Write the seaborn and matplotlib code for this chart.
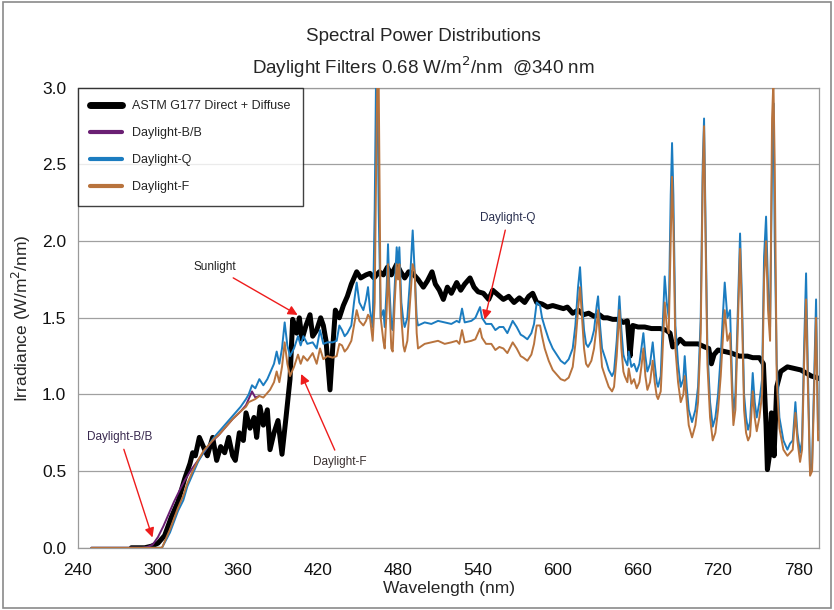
import numpy as np
import pandas as pd
import matplotlib
matplotlib.use("Agg")
import matplotlib.pyplot as plt
from matplotlib.lines import Line2D
from matplotlib.patches import Rectangle
from matplotlib.ticker import MultipleLocator, FormatStrFormatter
import seaborn as sns

# -------------------------------
# Data
# -------------------------------

astm_wl = [280, 290, 295, 300, 305, 310, 315, 320, 324, 326, 328, 331, 334, 337, 341, 344,
           347, 350, 353, 356, 358, 361, 364, 366, 369, 372, 374, 376.5, 379, 382, 384,
           387, 390, 393, 396, 399, 401, 404, 406, 408, 411, 414, 416, 419, 422, 424, 426,
           429, 431, 433, 436, 439, 442, 445, 449, 452, 456, 459, 462, 466, 469, 472, 475,
           479, 482, 485, 488, 491, 495, 499, 502, 505.5, 508, 511, 514, 517, 520, 524, 527,
           530, 534, 537, 540, 544, 548, 551, 555, 559, 563, 567, 571, 575, 578, 581, 584,
           588, 592, 596, 600, 604, 607, 611, 615, 619, 623, 627, 631, 634, 637, 641, 645,
           649, 652, 654, 656, 660, 665, 670, 676.5, 681, 684, 686, 688, 691.5, 695, 700,
           705, 710, 713, 715, 717, 720, 725, 730, 736, 742, 746, 751, 754, 756, 757, 758.5,
           760, 762, 764, 767, 772, 777, 782, 786, 790, 794, 797]
astm_val = [0.0, 0.0, 0.01, 0.03, 0.08, 0.2, 0.3, 0.45, 0.55, 0.62, 0.6, 0.72, 0.66, 0.6, 0.72, 0.57,
            0.66, 0.62, 0.72, 0.6, 0.57, 0.75, 0.7, 0.88, 0.78, 0.85, 0.72, 0.92, 0.8, 0.9, 0.64,
            0.75, 0.83, 0.61, 0.85, 1.1, 1.49, 1.4, 1.5, 1.36, 1.45, 1.52, 1.38, 1.42, 1.5, 1.45, 1.35,
            1.03, 1.3, 1.55, 1.5, 1.58, 1.64, 1.72, 1.8, 1.76, 1.78, 1.79, 1.76, 1.8, 1.78, 1.83, 1.78,
            1.85, 1.8, 1.76, 1.8, 1.79, 1.75, 1.7, 1.74, 1.8, 1.72, 1.68, 1.62, 1.7, 1.66, 1.73, 1.68,
            1.72, 1.76, 1.7, 1.67, 1.66, 1.62, 1.68, 1.65, 1.62, 1.64, 1.6, 1.63, 1.6, 1.64, 1.66, 1.6,
            1.59, 1.57, 1.58, 1.57, 1.56, 1.57, 1.53, 1.55, 1.52, 1.53, 1.51, 1.52, 1.5, 1.5, 1.49, 1.49,
            1.47, 1.48, 1.25, 1.45, 1.44, 1.44, 1.43, 1.43, 1.42, 1.4, 1.31, 1.32, 1.36, 1.33, 1.33,
            1.33, 1.31, 1.3, 1.2, 1.26, 1.29, 1.28, 1.27, 1.25, 1.25, 1.24, 1.24, 1.2, 0.8, 0.51, 0.6,
            0.88, 0.6, 1.05, 1.15, 1.18, 1.17, 1.16, 1.14, 1.12, 1.11, 1.1]

bb_wl = [250, 288, 292, 296, 300, 304, 308, 312, 316.5, 320, 325, 330, 335, 340, 345, 350,
         356, 362, 366, 368, 370.5, 373, 376]
bb_val = [0.0, 0.0, 0.005, 0.02, 0.07, 0.14, 0.22, 0.3, 0.38, 0.44, 0.51, 0.57, 0.63, 0.69, 0.73, 0.78,
          0.84, 0.89, 0.93, 0.97, 1.02, 0.98, 0.99]

filt_wl = [250, 300, 303, 306, 309, 312, 315, 319, 322, 326, 330, 334, 338, 342, 346, 350,
           356, 362, 366, 368, 370.5, 373, 376, 379, 382, 384, 387, 389, 391, 393, 395, 397,
           399, 402, 405, 407, 409, 412, 416, 419, 421.5, 424, 427, 431, 434, 436, 438, 440,
           442, 445, 447, 449, 451, 454, 456, 457.5, 459, 461, 462.5, 463.5, 464.5, 465.5, 467,
           469, 470, 471.5, 472.5, 473.5, 475, 476, 477.5, 479, 480, 481, 482.5, 484, 485, 487,
           489, 491, 492.5, 494, 495, 500, 505, 510, 515, 520, 524, 526, 528, 530, 535, 538,
           541.5, 543, 546, 550, 553, 556, 559, 562, 566, 569, 572, 574, 577, 580, 582, 584,
           586.5, 588, 590, 593, 596, 599, 602, 605, 608, 611, 613, 615, 616.5, 618, 619.5, 621,
           622.5, 625, 627, 629, 630, 631.5, 633, 636, 638, 640.5, 642, 644, 646, 647.5, 649, 650,
           652, 653, 655, 657, 659, 661, 662.5, 664, 665.5, 667, 669, 671, 672.5, 674, 675, 677,
           678, 680, 681.5, 683, 684.5, 685.5, 686.5, 688, 690, 692, 694, 695, 696.5, 698, 700.5,
           703, 705, 707, 708.5, 709.5, 710.5, 712, 714, 716, 718, 720, 722, 723.5, 725, 727, 729,
           730.5, 731.5, 733, 735, 736.5, 738, 739.5, 741, 742.5, 744, 746, 747.5, 749, 751, 753,
           754.5, 756, 757.5, 759, 760.5, 761.5, 762.5, 764, 766, 769, 772, 774, 776, 778, 779.5,
           781.5, 783, 784.5, 786, 787.5, 789, 790.5, 792, 793.5, 795, 797]
q_val = [0.0, 0.0, 0.0, 0.05, 0.1, 0.17, 0.24, 0.31, 0.4, 0.48, 0.56, 0.62, 0.67, 0.72, 0.76, 0.8,
         0.86, 0.92, 0.97, 1.0, 1.06, 1.04, 1.1, 1.06, 1.1, 1.14, 1.2, 1.28, 1.2, 1.3, 1.47, 1.32,
         1.25, 1.3, 1.38, 1.32, 1.38, 1.33, 1.34, 1.3, 1.42, 1.33, 1.34, 1.34, 1.35, 1.45, 1.42, 1.38,
         1.4, 1.45, 1.6, 1.73, 1.6, 1.55, 1.62, 1.7, 1.55, 1.44, 2.2, 3.05, 3.05, 2.2, 1.5,
         1.55, 1.44, 1.7, 1.98, 1.7, 1.45, 1.42, 1.7, 1.96, 1.85, 1.96, 1.6, 1.48, 1.44, 1.5,
         1.75, 2.07, 1.8, 1.5, 1.45, 1.47, 1.46, 1.48, 1.47, 1.46, 1.48, 1.47, 1.56, 1.47, 1.48, 1.5,
         1.57, 1.5, 1.46, 1.46, 1.42, 1.44, 1.44, 1.4, 1.48, 1.44, 1.39, 1.38, 1.36, 1.4, 1.46, 1.6,
         1.58, 1.5, 1.44, 1.36, 1.3, 1.26, 1.22, 1.2, 1.23, 1.3, 1.45, 1.7, 1.83, 1.6, 1.42, 1.33,
         1.31, 1.35, 1.42, 1.58, 1.64, 1.45, 1.3, 1.22, 1.16, 1.12, 1.15, 1.35, 1.64, 1.42, 1.26, 1.23,
         1.19, 1.28, 1.18, 1.2, 1.15, 1.2, 1.3, 1.4, 1.25, 1.15, 1.2, 1.34, 1.2, 1.08, 1.05, 1.12,
         1.35, 1.77, 1.6, 1.5, 2.3, 2.64, 2.3, 1.45, 1.2, 1.05, 1.1, 1.25, 1.05, 0.9, 0.82,
         0.9, 1.05, 1.5, 2.5, 2.8, 2.2, 1.3, 0.95, 0.79, 0.85, 1.0, 1.25, 1.5, 1.73, 1.5, 1.55,
         1.1, 0.88, 1.0, 1.6, 2.05, 1.6, 1.0, 0.85, 0.77, 0.82, 1.14, 0.95, 0.85, 0.95, 1.1,
         1.9, 2.16, 1.7, 1.44, 2.5, 2.9, 2.0, 1.2, 0.85, 0.7, 0.64, 0.68, 0.7, 0.95, 0.75,
         0.62, 0.7, 1.3, 1.79, 1.1, 0.49, 0.55, 1.1, 1.62, 0.77, 0.78]
f_val = [0.0, 0.0, 0.0, 0.06, 0.12, 0.19, 0.26, 0.34, 0.42, 0.5, 0.57, 0.63, 0.67, 0.71, 0.74, 0.78,
         0.84, 0.89, 0.92, 0.95, 0.96, 0.97, 0.99, 0.98, 1.01, 1.03, 1.08, 1.15, 1.08, 1.18, 1.34, 1.2,
         1.12, 1.18, 1.26, 1.2, 1.25, 1.22, 1.27, 1.2, 1.3, 1.23, 1.25, 1.24, 1.25, 1.33, 1.32, 1.28,
         1.3, 1.35, 1.45, 1.55, 1.48, 1.45, 1.48, 1.52, 1.5, 1.35, 1.6, 2.4, 3.05, 3.05, 1.5,
         1.35, 1.3, 1.55, 1.85, 1.6, 1.3, 1.28, 1.6, 1.85, 1.75, 1.85, 1.5, 1.32, 1.28, 1.35,
         1.6, 1.85, 1.8, 1.4, 1.3, 1.33, 1.34, 1.35, 1.33, 1.34, 1.35, 1.33, 1.42, 1.34, 1.35, 1.36,
         1.43, 1.37, 1.33, 1.33, 1.29, 1.31, 1.3, 1.27, 1.34, 1.3, 1.25, 1.24, 1.22, 1.26, 1.33, 1.45,
         1.45, 1.38, 1.3, 1.22, 1.16, 1.13, 1.1, 1.09, 1.11, 1.18, 1.33, 1.55, 1.7, 1.5, 1.3, 1.2,
         1.18, 1.22, 1.3, 1.45, 1.55, 1.35, 1.18, 1.1, 1.05, 1.02, 1.05, 1.25, 1.55, 1.3, 1.15, 1.12,
         1.08, 1.17, 1.07, 1.1, 1.04, 1.08, 1.18, 1.3, 1.12, 1.03, 1.08, 1.22, 1.08, 0.99, 0.97, 1.02,
         1.2, 1.6, 1.45, 1.4, 2.0, 2.42, 2.1, 1.3, 1.08, 0.95, 1.0, 1.12, 0.95, 0.8, 0.72,
         0.8, 0.95, 1.4, 2.4, 2.75, 2.1, 1.2, 0.85, 0.7, 0.75, 0.9, 1.12, 1.35, 1.55, 1.35, 1.4,
         1.0, 0.8, 0.9, 1.5, 1.95, 1.5, 0.9, 0.75, 0.7, 0.73, 1.02, 0.85, 0.76, 0.85, 1.0,
         1.75, 2.0, 1.55, 1.35, 2.8, 3.05, 2.5, 1.1, 0.78, 0.64, 0.6, 0.62, 0.64, 0.88, 0.7,
         0.56, 0.64, 1.2, 1.62, 1.0, 0.47, 0.5, 1.0, 1.5, 0.7, 0.72]

series_names = ["ASTM G177 Direct + Diffuse", "Daylight-B/B", "Daylight-Q", "Daylight-F"]
series_colors = ["#000000", "#6a1f73", "#1b7cc0", "#b8733d"]

# -------------------------------
# Figure setup
# -------------------------------

sns.set_style("white")
plt.rcParams["font.family"] = ["Liberation Sans Narrow", "Liberation Sans", "DejaVu Sans"]

fig = plt.figure(figsize=(8.34, 6.10), dpi=100)
ax = fig.add_axes([0.0935, 0.102, 0.889, 0.754])

sns.lineplot(x=astm_wl, y=astm_val, ax=ax, color=series_colors[0], lw=3.6,
             estimator=None, sort=False, zorder=2)
sns.lineplot(x=bb_wl, y=bb_val, ax=ax, color=series_colors[1], lw=1.4,
             estimator=None, sort=False, zorder=3)
sns.lineplot(x=filt_wl, y=q_val, ax=ax, color=series_colors[2], lw=1.4,
             estimator=None, sort=False, zorder=3)
sns.lineplot(x=filt_wl, y=f_val, ax=ax, color=series_colors[3], lw=1.4,
             estimator=None, sort=False, zorder=4)

ax.set_xlim(240, 796)
ax.set_ylim(0, 3.0)
ax.xaxis.set_major_locator(MultipleLocator(60))
ax.xaxis.set_minor_locator(MultipleLocator(20))
ax.yaxis.set_major_locator(MultipleLocator(0.5))
ax.yaxis.set_minor_locator(MultipleLocator(0.1))
ax.yaxis.set_major_formatter(FormatStrFormatter("%.1f"))
ax.tick_params(axis="both", which="both", direction="out", color="#9a9a9a",
               labelsize=12.5, labelcolor="#111111")
ax.tick_params(axis="both", which="major", length=5, width=0.8)
ax.tick_params(axis="both", which="minor", length=3, width=0.8)
ax.tick_params(axis="x", pad=6)
ax.grid(axis="y", which="major", color="#a0a0a0", lw=0.9)
ax.set_axisbelow(True)
for side in ["left", "bottom", "top", "right"]:
    ax.spines[side].set_color("#9a9a9a")
    ax.spines[side].set_linewidth(0.9)

ax.set_xlabel("Wavelength (nm)", fontsize=12.5, labelpad=2)
ax.set_ylabel("Irradiance (W/m$^2$/nm)", fontsize=12.5, labelpad=6)

fig.text(0.508, 0.94, "Spectral Power Distributions", ha="center", va="center", fontsize=13.5)
fig.text(0.508, 0.89, "Daylight Filters 0.68 W/m$^2$/nm  @340 nm", ha="center", va="center",
         fontsize=13.5)

# -------------------------------
# Legend
# -------------------------------

handles = [Line2D([0], [0], color=series_colors[0], lw=5),
           Line2D([0], [0], color=series_colors[1], lw=3),
           Line2D([0], [0], color=series_colors[2], lw=3),
           Line2D([0], [0], color=series_colors[3], lw=3)]
leg = ax.legend(handles, series_names, loc="upper left", bbox_to_anchor=(0.0, 1.0),
                fontsize=9, frameon=True, fancybox=False, borderpad=1.0,
                labelspacing=1.2, handlelength=2.5, handletextpad=0.8,
                borderaxespad=0.0)
leg.get_frame().set_edgecolor("#111111")
leg.get_frame().set_linewidth(1.0)
leg.set_zorder(10)

# -------------------------------
# Annotations
# -------------------------------

arrow_style = dict(arrowstyle="-|>", color="#ee1c1c", lw=1.0, mutation_scale=14)
ax.annotate("Sunlight", xy=(406.5, 1.51), xytext=(342.5, 1.83), fontsize=8.5, color="#222222",
            ha="center", va="center", arrowprops=arrow_style)
ax.annotate("Daylight-Q", xy=(544.5, 1.47), xytext=(562.5, 2.15), fontsize=8.5, color="#2a3050",
            ha="center", va="center", arrowprops=arrow_style)
ax.annotate("Daylight-F", xy=(406.5, 1.15), xytext=(436.5, 0.56), fontsize=8.5, color="#3a3030",
            ha="center", va="center", arrowprops=arrow_style)
ax.annotate("Daylight-B/B", xy=(296.5, 0.05), xytext=(271.5, 0.72), fontsize=8.5, color="#3a2a50",
            ha="center", va="center", arrowprops=arrow_style)

# figure border
fig.patches.append(Rectangle((0.003, 0.003), 0.994, 0.994, transform=fig.transFigure,
                             fill=False, edgecolor="#8a8a8a", lw=1.2))

plt.savefig("out.png", dpi=100)
plt.close()
